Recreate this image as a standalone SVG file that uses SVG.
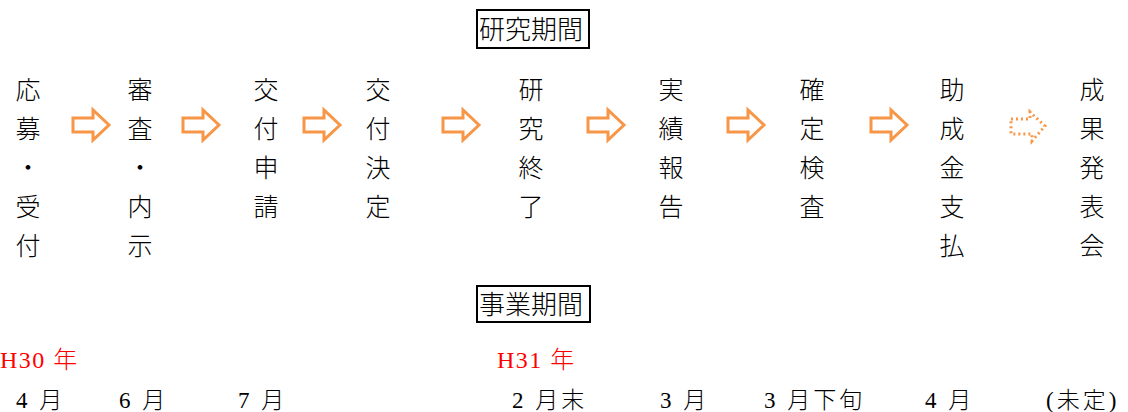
<svg xmlns="http://www.w3.org/2000/svg" width="1128" height="412" viewBox="0 0 1128 412">
<style>
text{font-family:"Liberation Serif","Noto Sans CJK JP",serif;fill:#000;font-weight:300}
.v{font-size:25px;text-anchor:middle;font-family:"Noto Sans CJK JP",sans-serif;font-weight:300}
.b{font-size:26px;font-family:"Noto Sans CJK JP",sans-serif;font-weight:300}
.m{font-size:23px;letter-spacing:3px}
.r{fill:#ff0000;font-size:24px;letter-spacing:1.5px}
.ar{fill:#fff;stroke:#F79646;stroke-width:3;stroke-linejoin:miter}
.ard{fill:none;stroke:#F79646;stroke-width:3;stroke-dasharray:2 3}
.box{fill:#fff;stroke:#000;stroke-width:2}
</style>
<defs>
<path id="arw" d="M0,8 H20 V0 L36,15 L20,30 V22 H0 Z"/>
</defs>
<g id="label-research">
<rect class="box" x="477" y="10" width="112" height="38"/>
<text class="b" x="479" y="39">研究期間</text>
</g>
<g id="label-project">
<rect class="box" x="477" y="286" width="113" height="36"/>
<text class="b" x="479" y="314">事業期間</text>
</g>
<g id="n1"><text class="v"><tspan x="28" y="99">応</tspan><tspan x="28" y="138">募</tspan><tspan x="28" y="177">・</tspan><tspan x="28" y="216">受</tspan><tspan x="28" y="255">付</tspan></text></g>
<g id="n2"><text class="v"><tspan x="140" y="99">審</tspan><tspan x="140" y="138">査</tspan><tspan x="140" y="177">・</tspan><tspan x="140" y="216">内</tspan><tspan x="140" y="255">示</tspan></text></g>
<g id="n3"><text class="v"><tspan x="266" y="99">交</tspan><tspan x="266" y="138">付</tspan><tspan x="266" y="177">申</tspan><tspan x="266" y="216">請</tspan></text></g>
<g id="n4"><text class="v"><tspan x="378" y="99">交</tspan><tspan x="378" y="138">付</tspan><tspan x="378" y="177">決</tspan><tspan x="378" y="216">定</tspan></text></g>
<g id="n5"><text class="v"><tspan x="531" y="99">研</tspan><tspan x="531" y="138">究</tspan><tspan x="531" y="177">終</tspan><tspan x="531" y="216">了</tspan></text></g>
<g id="n6"><text class="v"><tspan x="671" y="99">実</tspan><tspan x="671" y="138">績</tspan><tspan x="671" y="177">報</tspan><tspan x="671" y="216">告</tspan></text></g>
<g id="n7"><text class="v"><tspan x="812" y="99">確</tspan><tspan x="812" y="138">定</tspan><tspan x="812" y="177">検</tspan><tspan x="812" y="216">査</tspan></text></g>
<g id="n8"><text class="v"><tspan x="952" y="99">助</tspan><tspan x="952" y="138">成</tspan><tspan x="952" y="177">金</tspan><tspan x="952" y="216">支</tspan><tspan x="952" y="255">払</tspan></text></g>
<g id="n9"><text class="v"><tspan x="1092" y="99">成</tspan><tspan x="1092" y="138">果</tspan><tspan x="1092" y="177">発</tspan><tspan x="1092" y="216">表</tspan><tspan x="1092" y="255">会</tspan></text></g>
<g id="connectors">
<use href="#arw" class="ar" x="73" y="110"/>
<use href="#arw" class="ar" x="183" y="110"/>
<use href="#arw" class="ar" x="304" y="110"/>
<use href="#arw" class="ar" x="443" y="110"/>
<use href="#arw" class="ar" x="588" y="110"/>
<use href="#arw" class="ar" x="728" y="110"/>
<use href="#arw" class="ar" x="871" y="110"/>
<path class="ard" d="M1011,119 H1030 V112 L1045,126 L1032,141 V134 H1011 Z"/>
</g>
<g id="timeline">
<text class="r" x="0" y="368">H30 年</text>
<text class="r" x="497" y="368">H31 年</text>
<text class="m" x="16" y="408">4 月</text>
<text class="m" x="119" y="408">6 月</text>
<text class="m" x="238" y="408">7 月</text>
<text class="m" x="512" y="408">2 月末</text>
<text class="m" x="660" y="408">3 月</text>
<text class="m" x="764" y="408">3 月下旬</text>
<text class="m" x="925" y="408">4 月</text>
<text class="m" x="1046" y="408">(未定)</text>
</g>
</svg>
